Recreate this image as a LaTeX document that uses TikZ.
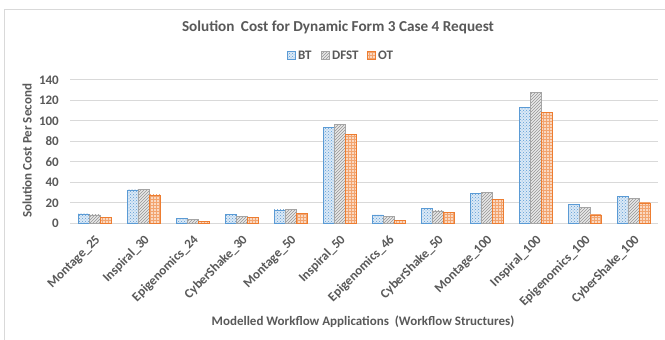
\documentclass[tikz,border=0pt]{standalone}
\usepackage{fontspec}
\setmainfont{Carlito}
\usetikzlibrary{patterns}
\definecolor{btblue}{HTML}{5B9BD5}
\definecolor{dfgray}{HTML}{A5A5A5}
\definecolor{otorange}{HTML}{ED7D31}
\definecolor{txtgray}{HTML}{595959}
\definecolor{gridgray}{HTML}{D9D9D9}
\tikzset{
  btbar/.style={draw=btblue, line width=0.9pt, preaction={fill=btblue!22},
    pattern=crosshatch dots, pattern color=btblue},
  dfbar/.style={draw=dfgray, line width=0.9pt, preaction={fill=dfgray!25},
    pattern=north east lines, pattern color=dfgray!90!black},
  otbar/.style={draw=otorange, line width=0.9pt, preaction={fill=otorange!30},
    pattern=grid, pattern color=otorange!70},
  gridline/.style={draw=gridgray, line width=1pt},
  lbl/.style={text=txtgray, font=\bfseries\fontsize{13}{15}\selectfont, inner sep=0pt},
}
\begin{document}
\begin{tikzpicture}[x=1pt,y=-1pt]
\useasboundingbox (0,0) rectangle (665,340);
\clip (0,0) rectangle (665,340);
\fill[white] (0,0) rectangle (665,340);
% chart frame
\draw[gridgray, line width=1pt] (4.5,9) rectangle (690,360);
% title and legend
\node[lbl, font=\bfseries\fontsize{15.2}{17}\selectfont] (title) at (338,27) {Solution\hspace{3pt} Cost for Dynamic Form 3 Case 4 Request};
\path[btbar, line width=0.6pt] (287,51) rectangle (295,59);
\node[lbl, anchor=west] (legbt) at (298,55) {BT};
\path[dfbar, line width=0.6pt] (321,51) rectangle (329,59);
\node[lbl, anchor=west] (legdf) at (332,55) {DFST};
\path[otbar, line width=0.6pt] (367,51) rectangle (375,59);
\node[lbl, anchor=west] (legot) at (378,55) {OT};
% horizontal grid and value labels
\foreach \v in {0,20,...,140} {
  \draw[gridline] (70,{223.5-1.0257*\v}) -- (658,{223.5-1.0257*\v});
  \node[lbl, anchor=east] (tick\v) at (59,{223.5-1.0257*\v}) {\v};
}
% bars and category labels
\foreach \n/\b/\d/\o [count=\i from 0] in {
  Montage\_25/9.3/8.3/6,
  Inspiral\_30/32.7/33/27.8,
  Epigenomics\_24/4.7/3.7/1.8,
  CyberShake\_30/9/7.3/5.7,
  Montage\_50/13.2/13.8/9.6,
  Inspiral\_50/93.8/96.7/87,
  Epigenomics\_46/8.3/7/3.1,
  CyberShake\_50/14.4/12.2/10.9,
  Montage\_100/29/30/23.6,
  Inspiral\_100/113.3/127.5/108,
  Epigenomics\_100/18.7/15.4/8.3,
  CyberShake\_100/26.5/24.2/20} {
  \pgfmathsetmacro\cx{70+49*(\i+0.5)}
  \path[btbar] ({\cx-16.5},223.5) rectangle ({\cx-5.5},{223.5-1.0257*\b});
  \path[dfbar] ({\cx-5.5},223.5) rectangle ({\cx+5.5},{223.5-1.0257*\d});
  \path[otbar] ({\cx+5.5},223.5) rectangle ({\cx+16.5},{223.5-1.0257*\o});
  \node[lbl, anchor=east, rotate=45] (cat\i) at ({\cx+4},238) {\n};
}
% axis titles
\node[lbl, rotate=90] (ytitle) at (27,151) {Solution Cost Per Second};
\node[lbl] (xtitle) at (363,322) {Modelled Workflow Applications\hspace{3pt} (Workflow Structures)};
\end{tikzpicture}
\end{document}
